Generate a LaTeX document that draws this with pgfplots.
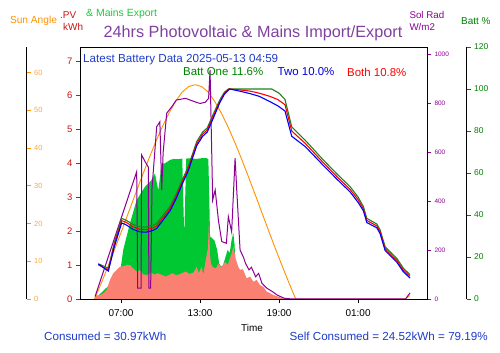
\documentclass[border=0pt]{standalone}
\usepackage{pgfplots}
\pgfplotsset{compat=1.18}
\usepackage{fontspec}
\setmainfont{Liberation Sans}
\definecolor{exportgreen}{RGB}{0,200,50}
\definecolor{pvsalmon}{RGB}{250,128,114}
\definecolor{sunorange}{RGB}{255,145,0}
\definecolor{sunlabel}{RGB}{255,165,60}
\definecolor{solpurple}{RGB}{140,0,150}
\definecolor{titlepurple}{RGB}{128,64,160}
\definecolor{pvred}{RGB}{200,20,20}
\definecolor{battgreen}{RGB}{30,130,30}
\definecolor{labgreen}{RGB}{0,128,0}
\definecolor{textblue}{RGB}{30,60,200}
\definecolor{legblue}{RGB}{0,0,220}
\definecolor{mainsgreen}{RGB}{30,200,60}
\pgfplotsset{base/.style={at={(80bp,54bp)}, anchor=south west, scale only axis,
  width=347bp, height=252bp, xmin=3.887, xmax=30.23,
  /pgf/number format/assume math mode=true, /pgf/number format/1000 sep={}}}
\begin{document}
\begin{tikzpicture}
\useasboundingbox (0,0) rectangle (500bp,353bp);
% PV / export axis
\begin{axis}[base, ymin=0, ymax=7.43,
  xtick={7,13,19,25}, xticklabels={07:00,13:00,19:00,01:00},
  ytick={0,1,...,7}, xtick pos=bottom, ytick pos=left, tick align=outside,
  major tick length=4bp,
  yticklabel style={font=\fontsize{9.5}{10}\selectfont, text=pvred},
  xticklabel style={font=\fontsize{10}{12}\selectfont, yshift=-3bp},
  xtick style={black}, ytick style={draw=none}, axis line style={black}, clip=false]
\addplot[fill=exportgreen, draw=none] coordinates {
(5.0,0) (6.9,0.7) (7.17,1.45) (7.68,2.23) (8.19,2.92) (8.82,3.31) (9.3,3.5) (9.58,3.7)
(9.83,3.2) (10.09,4.0) (10.34,4.0) (10.72,4.1) (11.0,4.13) (11.3,4.12) (11.65,4.14)
(11.8,1.85) (11.95,4.14) (12.3,4.15) (12.7,4.13) (13.1,4.15) (13.5,4.15) (13.63,4.12)
(13.7,3.0) (13.76,1.84) (13.9,1.8) (14.1,1.72) (14.3,1.45) (14.45,1.05) (14.6,0.95)
(14.75,1.0) (14.9,1.2) (15.1,1.45) (15.25,1.35) (15.4,1.75) (15.53,1.94) (15.62,1.6)
(15.72,0.8) (15.85,0.5) (16.0,0)};
\addplot[fill=pvsalmon, draw=none] coordinates {
(5.0,0) (5.05,0.1) (5.4,0.12) (5.66,0.17) (5.91,0.27) (6.16,0.56) (6.42,0.76) (6.67,0.86)
(6.92,0.95) (7.2,0.97) (7.43,1.0) (7.7,1.0) (7.93,0.9) (8.2,0.81) (8.45,0.85) (8.7,0.72)
(9.0,0.71) (9.3,0.78) (9.55,0.72) (9.8,0.76) (10.1,0.71) (10.4,0.66) (10.7,0.72)
(10.9,0.76) (11.2,0.70) (11.5,0.74) (11.9,0.81) (12.2,0.74) (12.5,0.78) (12.75,0.95)
(12.9,0.76) (13.12,0.95) (13.25,0.72) (13.43,1.15) (13.6,1.5) (13.68,2.35) (13.76,1.3)
(13.83,1.05) (13.95,0.95) (14.2,0.9) (14.4,1.05) (14.6,0.92) (14.9,1.1) (15.1,1.0)
(15.4,1.35) (15.53,1.54) (15.7,1.2) (15.9,0.95) (16.04,0.86) (16.25,0.88) (16.54,0.61)
(16.8,0.66) (17.05,0.51) (17.3,0.56) (17.55,0.41) (17.8,0.36) (18.06,0.22) (18.56,0.12)
(19.07,0.05) (19.45,0)};
\pgfplotsinvokeforeach{0,1,...,7}{\draw[pvred, line width=0.8bp] ([xshift=-4bp]axis cs:3.887,#1) -- (axis cs:3.887,#1);}
\end{axis}
% Sun angle data
\begin{axis}[base, ymin=0, ymax=66.8, hide axis]
\addplot[sunorange, line width=0.9bp] coordinates {
(4.99,0) (5.13,1.1) (5.63,5.3) (6.13,9.7) (6.63,14.2) (7.13,18.8) (7.63,23.5) (8.13,28.2)
(8.63,32.8) (9.13,37.3) (9.63,41.6) (10.13,45.6) (10.63,49.2) (11.13,52.3) (11.63,54.8)
(12.13,56.3) (12.63,56.8) (13.13,56.3) (13.63,54.8) (14.13,52.3) (14.63,49.2) (15.13,45.6)
(15.63,41.6) (16.13,37.3) (16.63,32.8) (17.13,28.2) (17.63,23.5) (18.13,18.8) (18.63,14.2)
(19.13,9.7) (19.63,5.3) (20.13,1.1) (20.27,0) (28.55,0) (28.92,0.9)};
\end{axis}
% Solar radiation
\begin{axis}[base, ymin=0, ymax=1031, axis y line=right, axis x line=none,
  ytick pos=right, ytick={0,200,...,1000}, tick align=outside, major tick length=4bp,
  y axis line style={draw=none}, ytick style={draw=none}, clip=false,
  yticklabel style={font=\fontsize{6.5}{7}\selectfont, text=solpurple}]
\addplot[solpurple, line width=1bp] coordinates {
(5.03,10) (8.19,521) (8.27,44) (8.52,44) (8.57,589) (8.85,560) (9.07,540) (9.12,44)
(9.25,44) (9.35,450) (9.71,705) (9.95,725) (10.09,446) (10.2,600) (10.47,760) (10.9,790)
(11.2,814) (11.9,821) (12.6,807) (13.0,800) (13.4,805) (13.65,821) (13.76,937) (13.96,405)
(14.15,446) (14.4,320) (14.65,235) (15.0,228) (15.15,337) (15.4,275) (15.66,576)
(15.8,432) (16.04,200) (16.3,170) (16.45,146) (16.72,119) (16.9,130) (17.22,91)
(17.45,105) (17.7,64) (18.08,44) (18.5,30) (18.86,16) (19.4,3) (20,0) (28.6,0) (28.94,25)};
\pgfplotsinvokeforeach{0,200,400,600,800,1000}{\draw[solpurple, line width=0.8bp] (axis cs:30.23,#1) -- ([xshift=4bp]axis cs:30.23,#1);}
\end{axis}
% Battery
\begin{axis}[base, ymin=0, ymax=120, hide axis, clip=false]
\addplot[battgreen, line width=1.1bp] coordinates {
(5.28,16.8) (6.04,14.6) (6.5,27) (7.05,38.4) (7.4,37.5) (7.9,35.5) (8.4,34.4) (8.9,34.2)
(9.4,35) (9.71,36) (10.2,40) (10.72,44) (11.2,50) (11.6,56) (12.1,63) (12.75,75)
(13.2,79.5) (13.55,81.5) (14.0,88) (14.5,94.8) (14.85,98.5) (15.15,100) (18.44,100)
(19.0,98) (19.45,95) (19.96,82) (21.0,75.5) (22.36,66.2) (23.4,59.5) (24.39,53.5)
(25.0,48.5) (25.4,44) (25.66,38.4) (26.42,35.7) (26.67,32.9) (27.05,24.9) (27.5,22)
(27.93,19.4) (28.44,14.6) (28.94,11.6)};
\addplot[red, line width=1.1bp] coordinates {
(5.28,16.3) (6.04,13.8) (6.5,26) (7.05,37.3) (7.4,36.5) (7.9,34.4) (8.4,33.2) (8.9,33)
(9.4,33.8) (9.71,34.8) (10.2,38.8) (10.72,43) (11.2,49) (11.6,55) (12.1,62) (12.75,74)
(13.2,78.5) (13.55,80.5) (14.0,87) (14.5,94) (14.85,98) (15.2,100) (16.0,99.6)
(16.8,99) (17.5,98) (18.3,96.5) (18.9,95) (19.45,92.5) (19.96,80) (21.0,74)
(22.36,64.9) (23.4,58.2) (24.39,52.2) (25.0,47.3) (25.4,43) (25.66,37.4) (26.42,34.8)
(26.67,32) (27.05,24) (27.5,21.1) (27.93,18.5) (28.44,13.7) (28.94,10.8)};
\addplot[blue, line width=1.1bp] coordinates {
(5.28,16.6) (6.04,13.3) (6.5,25) (7.05,36.2) (7.4,35.3) (7.9,33.2) (8.4,32) (8.9,31.8)
(9.4,32.6) (9.71,33.6) (10.2,37.6) (10.72,42) (11.2,48) (11.6,54) (12.1,61) (12.75,73)
(13.2,77.5) (13.55,79.5) (14.0,86) (14.5,93.5) (14.85,97.5) (15.25,100) (16.0,99)
(16.8,97.8) (17.5,96.5) (18.3,94) (18.9,92) (19.45,89.5) (19.96,77.5) (21.0,72.5)
(22.36,63.6) (23.4,57) (24.39,51) (25.0,46) (25.4,42) (25.66,36.4) (26.42,33.9)
(26.67,31.1) (27.05,23.1) (27.5,20.3) (27.93,17.6) (28.44,12.9) (28.94,10.0)};
\draw[black, line width=0.8bp] (rel axis cs:0,0) rectangle (rel axis cs:1,1);
\end{axis}
% Outer sun angle axis
\begin{axis}[at={(25.7bp,54bp)}, anchor=south west, scale only axis, width=1bp,
  height=252bp, xmin=0, xmax=1, ymin=0, ymax=66.8, axis y line=right, axis x line=none,
  ytick pos=right, yticklabel pos=right, ytick={0,10,...,60}, tick align=outside, major tick length=4bp,
  y axis line style={draw=none}, ytick style={draw=none}, clip=false,
  /pgf/number format/assume math mode=true,
  yticklabel style={font=\fontsize{7.5}{8}\selectfont, text=sunlabel}]
\addplot[draw=none] coordinates {(0,0)};
\pgfplotsinvokeforeach{0,10,...,60}{\draw[sunorange, line width=0.8bp] (axis cs:1,#1) -- ([xshift=4bp]axis cs:1,#1);}
\draw[black, line width=0.8bp] (rel axis cs:1,0) -- (rel axis cs:1,1);
\end{axis}
% Outer battery axis
\begin{axis}[at={(465.7bp,54bp)}, anchor=south west, scale only axis, width=1bp,
  height=252bp, xmin=0, xmax=1, ymin=0, ymax=120, axis y line=right, axis x line=none,
  ytick pos=right, yticklabel pos=right, ytick={0,20,...,120}, tick align=outside, major tick length=4bp,
  y axis line style={draw=none}, ytick style={draw=none}, clip=false,
  /pgf/number format/assume math mode=true,
  yticklabel style={font=\fontsize{8.5}{9}\selectfont, text=labgreen}]
\addplot[draw=none] coordinates {(0,0)};
\pgfplotsinvokeforeach{0,20,...,120}{\draw[labgreen, line width=0.8bp] (axis cs:1,#1) -- ([xshift=4bp]axis cs:1,#1);}
\draw[black, line width=0.8bp] (rel axis cs:1,0) -- (rel axis cs:1,1);
\end{axis}
% Texts
\node[font=\fontsize{16.3}{18}\selectfont, text=titlepurple] at (253bp,320bp) {24hrs Photovoltaic \& Mains Import/Export};
\node[font=\fontsize{10.2}{12}\selectfont, text=sunorange] at (33.5bp,332bp) {Sun Angle};
\node[font=\fontsize{10}{12}\selectfont, text=pvred, anchor=west, inner sep=0pt] at (60bp,338bp) {.PV};
\node[font=\fontsize{10}{12}\selectfont, text=pvred, anchor=west, inner sep=0pt] at (63bp,326bp) {kWh};
\node[font=\fontsize{10.5}{12}\selectfont, text=mainsgreen, anchor=west, inner sep=0pt] at (86bp,339bp) {\& Mains Export};
\node[font=\fontsize{9.8}{12}\selectfont, text=solpurple, anchor=west, inner sep=0pt] at (409.3bp,338bp) {Sol Rad};
\node[font=\fontsize{9.8}{12}\selectfont, text=solpurple, anchor=west, inner sep=0pt] at (409.3bp,326bp) {W/m2};
\node[font=\fontsize{10}{12}\selectfont, text=labgreen, anchor=west, inner sep=0pt] at (461bp,332bp) {Batt \%};
\node[font=\fontsize{11.7}{14}\selectfont, text=textblue, anchor=west, inner sep=0pt] at (83bp,293bp) {Latest Battery Data 2025-05-13 04:59};
\node[font=\fontsize{11.5}{14}\selectfont, text=labgreen, anchor=west, inner sep=0pt] at (183bp,281bp) {Batt One 11.6\%};
\node[font=\fontsize{11.5}{14}\selectfont, text=legblue, anchor=west, inner sep=0pt] at (277.5bp,281bp) {Two 10.0\%};
\node[font=\fontsize{11.5}{14}\selectfont, text=red, anchor=west, inner sep=0pt] at (347bp,281bp) {Both 10.8\%};
\node[font=\fontsize{10}{12}\selectfont] at (252bp,25bp) {Time};
\node[font=\fontsize{11.7}{14}\selectfont, text=textblue, anchor=west, inner sep=0pt] at (44bp,17bp) {Consumed = 30.97kWh};
\node[font=\fontsize{11.7}{14}\selectfont, text=textblue, anchor=east, inner sep=0pt] at (488bp,17bp) {Self Consumed = 24.52kWh = 79.19\%};
\end{tikzpicture}
\end{document}
